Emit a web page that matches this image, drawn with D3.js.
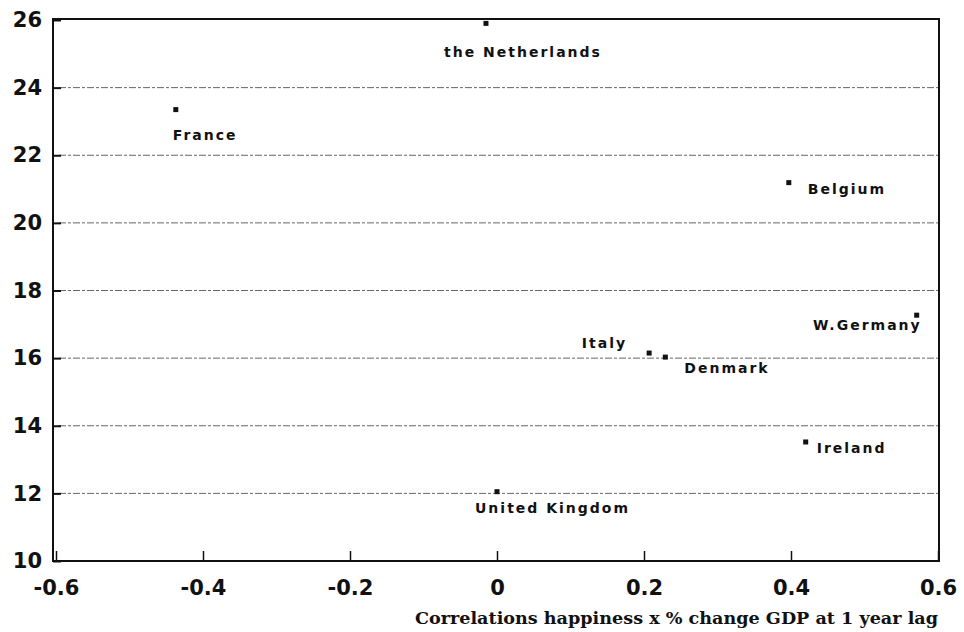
<!DOCTYPE html>
<html><head><meta charset="utf-8">
<script src="https://cdn.jsdelivr.net/npm/d3@7"></script>
<style>body{margin:0;background:#fff}svg{display:block}</style>
</head><body>
<script>
const countries = ["the Netherlands","France","Belgium","W.Germany","Italy","Denmark","Ireland","United Kingdom"];
const correlations = [-0.015,-0.437,0.397,0.571,0.207,0.229,0.420,0.0];
const growth = [25.9,23.35,21.19,17.27,16.15,16.03,13.52,12.05];
const xTicks = [-0.6,-0.4,-0.2,0,0.2,0.4,0.6];
const yTicks = [10,12,14,16,18,20,22,24,26];
const xTitle = "Correlations happiness x % change GDP at 1 year lag";
// label placement: [dx, dy, anchor]
const labelPos = [[37,34,"middle"],[-3,30,"start"],[19,11,"start"],[5,15,"end"],[-22,-5,"end"],[19,16,"start"],[11,11,"start"],[-22,21,"start"]];

const W=964,H=632;
const svg=d3.select("body").append("svg").attr("width",W).attr("height",H);
const x=d3.scaleLinear().domain([-0.6,0.6]).range([56,938]);
const y=d3.scaleLinear().domain([10,26]).range([561,20]);
const L=53,R=939,T=19,B=561;

// gridlines
svg.append("g").selectAll("line").data(yTicks.filter(d=>d>10&&d<26)).join("line")
  .attr("x1",L+6).attr("x2",R).attr("y1",d=>y(d)).attr("y2",d=>y(d))
  .attr("stroke","#666").attr("stroke-width",1).attr("stroke-dasharray","7,2,3,2");

// frame
svg.append("rect").attr("x",L).attr("y",T).attr("width",R-L).attr("height",B-T)
  .attr("fill","none").attr("stroke","#111").attr("stroke-width",2);

const tickFont="DejaVu Sans, Verdana, sans-serif";
// y axis
const ya=svg.append("g").attr("transform",`translate(${L},0)`)
  .call(d3.axisLeft(y).tickValues(yTicks).tickSize(-8).tickPadding(11).tickFormat(d3.format("d")));
ya.select(".domain").remove();
ya.selectAll("line").attr("stroke","#111").attr("stroke-width",2);
ya.selectAll("text").attr("font-family",tickFont).attr("font-weight","bold").attr("font-size",21).attr("fill","#111");

// x axis
const xa=svg.append("g").attr("transform",`translate(0,${B})`)
  .call(d3.axisBottom(x).tickValues(xTicks).tickSize(-10).tickPadding(19)
    .tickFormat(d=>d===0?"0":d3.format(".1f")(d).replace("\u2212","-")));
xa.select(".domain").remove();
xa.selectAll("line").attr("stroke","#111").attr("stroke-width",1.5);
xa.selectAll("text").attr("font-family",tickFont).attr("font-weight","bold").attr("font-size",21).attr("fill","#111");

// x title
svg.append("text").attr("x",415).attr("y",624).attr("text-anchor","start")
  .attr("textLength",523).attr("lengthAdjust","spacingAndGlyphs")
  .attr("font-family","DejaVu Serif, Liberation Serif, serif").attr("font-weight","bold").attr("font-size",16.5).attr("fill","#111")
  .text(xTitle);

// points
const data=countries.map((c,i)=>({c,x:correlations[i],y:growth[i],p:labelPos[i]}));
svg.append("g").selectAll("rect").data(data).join("rect")
  .attr("x",d=>x(d.x)-2.5).attr("y",d=>y(d.y)-2.5).attr("width",5).attr("height",5).attr("fill","#111");
svg.append("g").selectAll("text").data(data).join("text")
  .attr("x",d=>x(d.x)+d.p[0]).attr("y",d=>y(d.y)+d.p[1]).attr("text-anchor",d=>d.p[2])
  .attr("font-family",tickFont).attr("font-weight","bold").attr("font-size",14)
  .attr("letter-spacing",2).attr("fill","#111").text(d=>d.c);
</script>
</body></html>
